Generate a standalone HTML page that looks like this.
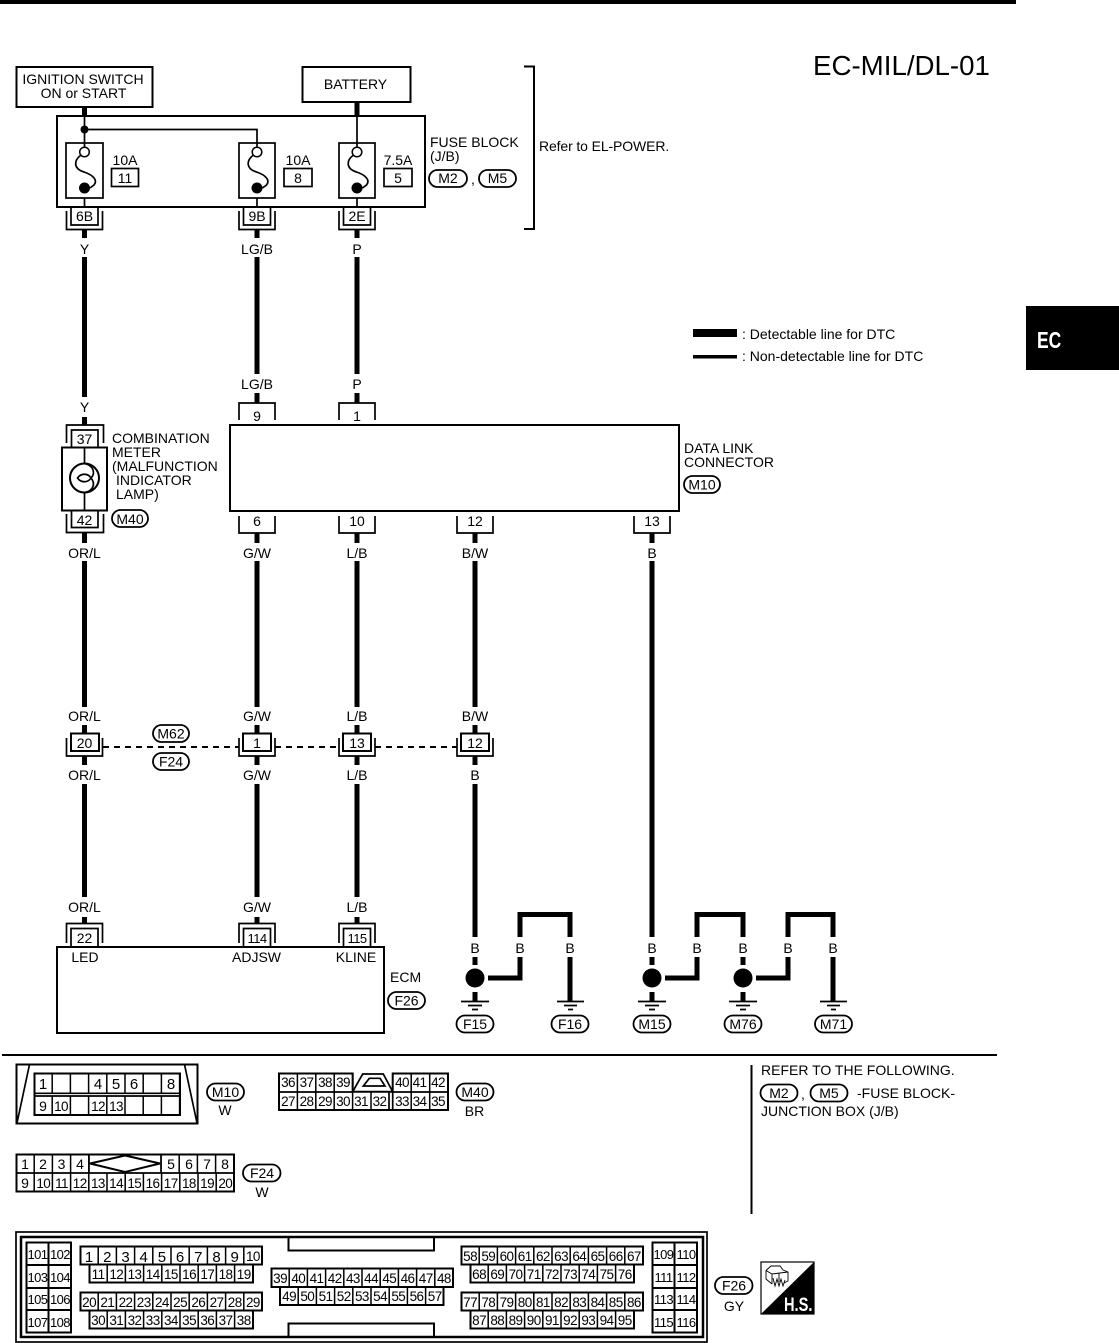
<!DOCTYPE html>
<html><head><meta charset="utf-8"><title>EC-MIL/DL-01</title>
<style>
html,body{margin:0;padding:0;background:#fff}
svg{display:block}
text{font-family:"Liberation Sans",sans-serif;font-size:14px;fill:#000}
.m{text-anchor:middle}
.c{text-anchor:middle;font-size:13.5px;letter-spacing:-.6px}
.t{text-anchor:middle;font-size:13px;letter-spacing:-.6px}
.p{fill:#fff;stroke:#000;stroke-width:1.8}
.w{stroke:#000;stroke-width:5;fill:none}
.l{stroke:#000;stroke-width:1.7;fill:none}
.b{stroke:#000;stroke-width:2;fill:none}
.g{stroke:#000;stroke-width:1.5;fill:#fff}
</style></head><body>
<svg width="1119" height="1343" viewBox="0 0 1119 1343" xmlns="http://www.w3.org/2000/svg">
<rect width="1119" height="1343" fill="#fff"/>
<rect x="0" y="0" width="1016" height="4" fill="#000"/>
<rect x="1026" y="306" width="93" height="64" fill="#000"/>
<text transform="translate(1037,348) scale(.76,1)" style="font-size:23px;font-weight:bold;fill:#fff">EC</text>
<text x="813" y="75" style="font-size:27.7px">EC-MIL/DL-01</text>

<!-- top boxes -->
<rect x="16.500" y="67" width="136" height="40" class="b"/>
<text x="83" y="84" class="m">IGNITION SWITCH</text>
<text x="83.500" y="98" class="m">ON or START</text>
<rect x="302.500" y="67" width="108" height="35" class="b"/>
<text x="355.500" y="89" class="m">BATTERY</text>
<path d="M524 66.500H534V229H524" class="b"/>
<text x="539" y="151" style="letter-spacing:-.12px">Refer to EL-POWER.</text>

<!-- fuse block -->
<rect x="57" y="116" width="368" height="91" class="b"/>
<path d="M84.500 107V116M357 102V116" class="w"/>
<path d="M84.500 116V147M84.500 129.500H257V147M357 116V147M84.500 198V207M257 198V207M357 198V207" class="l"/>
<circle cx="84.500" cy="129.500" r="4"/>
<rect x="66" y="143" width="37" height="55" class="l"/>
<rect x="239" y="143" width="36" height="55" class="l"/>
<rect x="339" y="143" width="36" height="55" class="l"/>
<g fill="none" stroke="#000" stroke-width="1.7">
<path d="M81 155C73 161 74 169 84 172C93 175 98 180 94 185L90 188"/>
<path d="M253.500 155C245.500 161 246.500 169 256.500 172C265.500 175 270.500 180 266.500 185L262.500 188"/>
<path d="M353.500 155C345.500 161 346.500 169 356.500 172C365.500 175 370.500 180 366.500 185L362.500 188"/>
</g>
<circle cx="84.500" cy="152" r="4.800" class="g"/><circle cx="257" cy="152" r="4.800" class="g"/><circle cx="357" cy="152" r="4.800" class="g"/>
<circle cx="84.500" cy="188" r="5.500"/><circle cx="257" cy="188" r="5.500"/><circle cx="357" cy="188" r="5.500"/>
<text x="125" y="165" class="m">10A</text><rect x="111.500" y="168.500" width="27" height="18" class="l"/><text x="125" y="183" class="m">11</text>
<text x="298" y="165" class="m">10A</text><rect x="284" y="168.500" width="28" height="18" class="l"/><text x="298" y="183" class="m">8</text>
<text x="398" y="165" class="m">7.5A</text><rect x="384" y="168.500" width="28" height="18" class="l"/><text x="398" y="183" class="m">5</text>
<text x="430" y="147">FUSE BLOCK</text>
<text x="430" y="161">(J/B)</text>
<rect x="429" y="170" width="38" height="17" rx="8.500" class="p"/><text x="448" y="183" class="m">M2</text>
<text x="471" y="184">,</text>
<rect x="479" y="170" width="37" height="17" rx="8.500" class="p"/><text x="497.500" y="183" class="m">M5</text>

<!-- connectors under fuse block -->
<path d="M66.500 211V229.500H102.500V211M71 207V225H98V207M239 211V229.500H275V211M243.500 207V225H270.500V207M339 211V229.500H375V211M343.500 207V225H370.500V207" class="l"/>
<text x="84.500" y="221" class="m">6B</text><text x="257" y="221" class="m">9B</text><text x="357" y="221" class="m">2E</text>
<path d="M84.500 230V238M257 230V238M357 230V238" class="w"/>
<text x="84.500" y="254" class="m">Y</text><text x="257" y="254" class="m">LG/B</text><text x="357" y="254" class="m">P</text>
<path d="M84.500 257V397M257 257V374M357 257V374M84.500 417V425M257 393V403M357 393V403" class="w"/>
<text x="84.500" y="412" class="m">Y</text><text x="257" y="389" class="m">LG/B</text><text x="357" y="389" class="m">P</text>

<!-- legend -->
<rect x="693" y="329" width="44" height="8"/>
<rect x="693" y="355" width="44" height="3.500"/>
<text x="742" y="339">: Detectable line for DTC</text>
<text x="742" y="361">: Non-detectable line for DTC</text>

<!-- combination meter -->
<path d="M66.500 443V425H103.500V443M71.500 447V430H98V447" class="l"/>
<text x="84.500" y="444" class="m">37</text>
<rect x="62" y="447.500" width="45" height="63" class="b"/>
<path d="M84.500 447V463M84.500 493V511" class="l"/>
<circle cx="84.500" cy="478" r="14.500" class="b"/>
<path d="M84.500 463.500C93 465 96 473 91 478C96 484 93 491 84.500 492.500M77.500 478C81 473 88 473 91 478C88 483 81 483 77.500 478Z" class="l"/>
<path d="M71.500 511V527.500H98V511M66.500 514V532.500H103.500V514" class="l"/>
<text x="84.500" y="525" class="m">42</text>
<text x="112" y="443">COMBINATION</text>
<text x="112" y="457">METER</text>
<text x="112" y="471">(MALFUNCTION</text>
<text x="116" y="485">INDICATOR</text>
<text x="116" y="499">LAMP)</text>
<rect x="112" y="510" width="36" height="17" rx="8.500" class="p"/><text x="130" y="524" class="m">M40</text>

<!-- data link connector -->
<rect x="230" y="425" width="449" height="86" class="b"/>
<path d="M239 420V403H275V420M339 420V403H375V420M239 516V533H275V516M339 516V533H375V516M457 516V533H493V516M634 516V533H670V516" class="l"/>
<text x="257" y="421" class="m">9</text><text x="357" y="421" class="m">1</text>
<text x="257" y="526" class="m">6</text><text x="357" y="526" class="m">10</text><text x="475" y="526" class="m">12</text><text x="652" y="526" class="m">13</text>
<text x="684" y="453">DATA LINK</text>
<text x="684" y="467">CONNECTOR</text>
<rect x="684" y="476" width="36" height="17" rx="8.500" class="p"/><text x="702" y="489.500" class="m">M10</text>

<!-- mid wires -->
<path d="M84.500 533V543M257 533V543M357 533V543M475 533V543M652 533V543" class="w"/>
<text x="84.500" y="558" class="m">OR/L</text><text x="257" y="558" class="m">G/W</text><text x="357" y="558" class="m">L/B</text><text x="475" y="558" class="m">B/W</text><text x="652" y="558" class="m">B</text>
<path d="M84.500 561V707M257 561V707M357 561V707M475 561V707M652 561V937" class="w"/>
<text x="84.500" y="721" class="m">OR/L</text><text x="257" y="721" class="m">G/W</text><text x="357" y="721" class="m">L/B</text><text x="475" y="721" class="m">B/W</text>
<path d="M84.500 725V733M257 725V733M357 725V733M475 725V733M84.500 756V765M257 756V765M357 756V765M475 756V765" class="w"/>
<path d="M66.500 738V756H102.500V738M239 738V756H275V738M339 738V756H375V738M457 738V756H493V738" class="l"/>
<rect x="71" y="733.500" width="28" height="17.500" class="b"/><rect x="243" y="733.500" width="28" height="17.500" class="b"/><rect x="343" y="733.500" width="28" height="17.500" class="b"/><rect x="461" y="733.500" width="28" height="17.500" class="b"/>
<text x="84.500" y="748" class="m">20</text><text x="257" y="748" class="m">1</text><text x="357" y="748" class="m">13</text><text x="475" y="748" class="m">12</text>
<path d="M103 747H239M275 747H339M375 747H457" stroke="#000" stroke-width="2" stroke-dasharray="6 5" fill="none"/>
<rect x="153" y="725" width="36" height="17" rx="8.500" class="p"/><text x="171" y="738.500" class="m">M62</text>
<rect x="153" y="753" width="36" height="17" rx="8.500" class="p"/><text x="171" y="766.500" class="m">F24</text>
<text x="84.500" y="780" class="m">OR/L</text><text x="257" y="780" class="m">G/W</text><text x="357" y="780" class="m">L/B</text><text x="475" y="780" class="m">B</text>
<path d="M84.500 784V897M257 784V897M357 784V897M475 784V937" class="w"/>
<text x="84.500" y="912" class="m">OR/L</text><text x="257" y="912" class="m">G/W</text><text x="357" y="912" class="m">L/B</text>
<path d="M84.500 917V924M257 917V924M357 917V924" class="w"/>

<!-- ECM -->
<path d="M66.500 943V923.500H102.500V943M71 947V928.500H98V947M239 943V923.500H275V943M243.500 947V928.500H270.500V947M339 943V923.500H375V943M343.500 947V928.500H370.500V947" class="l"/>
<text x="84.500" y="943" class="m">22</text><text x="257" y="943" class="t">114</text><text x="357" y="943" class="t">115</text>
<rect x="57" y="947" width="327" height="86" class="b"/>
<text x="85" y="962" class="m">LED</text><text x="256.500" y="962" class="m">ADJSW</text><text x="356" y="962" class="m">KLINE</text>
<text x="390" y="982">ECM</text>
<rect x="388" y="992" width="37" height="17" rx="8.500" class="p"/><text x="406.500" y="1005.500" class="m">F26</text>

<!-- grounds -->
<text x="475" y="953" class="m">B</text><text x="520" y="953" class="m">B</text><text x="570" y="953" class="m">B</text><text x="652" y="953" class="m">B</text><text x="697" y="953" class="m">B</text><text x="743" y="953" class="m">B</text><text x="788" y="953" class="m">B</text><text x="833" y="953" class="m">B</text>
<path d="M520 937V914.500H570V937M697 937V914.500H743V937M788 937V914.500H833V937M475 957V965M652 957V965M743 957V965M475 992V1001M652 992V1001M743 992V1001M570 957V1001M833 957V1001M520 957V978H488M697 957V978H665M788 957V978H756" class="w"/>
<circle cx="475" cy="978" r="9.500"/><circle cx="652" cy="978" r="9.500"/><circle cx="743" cy="978" r="9.500"/>
<path d="M461 1001.500H489M468 1005.500H482M472 1009.500H478M557 1001.500H584M564 1005.500H577M568 1009.500H573M638 1001.500H666M645 1005.500H659M649 1009.500H655M729 1001.500H757M736 1005.500H750M740 1009.500H746M820 1001.500H847M827 1005.500H840M831 1009.500H836" class="l"/>
<rect x="456.500" y="1015.500" width="37" height="17" rx="8.500" class="p"/><text x="475" y="1029" class="m">F15</text>
<rect x="551.500" y="1015.500" width="37" height="17" rx="8.500" class="p"/><text x="570" y="1029" class="m">F16</text>
<rect x="633.500" y="1015.500" width="37" height="17" rx="8.500" class="p"/><text x="652" y="1029" class="m">M15</text>
<rect x="724.500" y="1015.500" width="37" height="17" rx="8.500" class="p"/><text x="743" y="1029" class="m">M76</text>
<rect x="815" y="1015.500" width="37" height="17" rx="8.500" class="p"/><text x="833.500" y="1029" class="m">M71</text>

<!-- divider -->
<rect x="2" y="1054" width="995" height="2"/>
<rect x="750.500" y="1065" width="2" height="149"/>
<text x="761" y="1075">REFER TO THE FOLLOWING.</text>
<rect x="760.500" y="1084.500" width="37" height="17" rx="8.500" class="p"/><text x="779" y="1098" class="m">M2</text>
<text x="801" y="1099">,</text>
<rect x="810.500" y="1084.500" width="37" height="17" rx="8.500" class="p"/><text x="829" y="1098" class="m">M5</text>
<text x="857" y="1098">-FUSE BLOCK-</text>
<text x="761" y="1116">JUNCTION BOX (J/B)</text>

<!-- M10 connector -->
<rect x="16.500" y="1064.500" width="181" height="59" class="b"/>
<path d="M29.500 1064.500L17 1123M184.500 1064.500L197 1123" class="l"/>
<rect x="34.500" y="1073.500" width="145.500" height="41.500" class="b"/>
<path d="M34 1093.300H180M34 1096H180" class="l"/>
<line x1="34" x2="180" y1="1083.500" y2="1083.500" stroke="#000" stroke-width="20" stroke-dasharray="1.500 16.700" stroke-dashoffset=".75"/>
<line x1="34" x2="180" y1="1105.500" y2="1105.500" stroke="#000" stroke-width="19" stroke-dasharray="1.500 16.700" stroke-dashoffset=".75"/>
<text x="43" y="1089" class="m" style="font-size:15px">1</text><text x="98" y="1089" class="m" style="font-size:15px">4</text><text x="116" y="1089" class="m" style="font-size:15px">5</text><text x="134" y="1089" class="m" style="font-size:15px">6</text><text x="171" y="1089" class="m" style="font-size:15px">8</text>
<text x="43" y="1111" class="m">9</text><text x="61" y="1111" class="c">10</text><text x="98" y="1111" class="c">12</text><text x="116" y="1111" class="c">13</text>
<rect x="207" y="1083.500" width="37" height="17" rx="8.500" class="p"/><text x="225.500" y="1097" class="m">M10</text>
<text x="225" y="1115" class="m">W</text>

<!-- M40 connector -->
<path d="M279 1073.500H352.700V1091.700H392.700V1073.500H448V1110H279Z" class="b"/>
<path d="M279 1092H352.700M392.700 1092H448" class="l"/>
<line x1="279" x2="352.700" y1="1082.500" y2="1082.500" stroke="#000" stroke-width="18" stroke-dasharray="1.500 16.900" stroke-dashoffset=".75"/>
<line x1="279" x2="389" y1="1101" y2="1101" stroke="#000" stroke-width="18" stroke-dasharray="1.500 16.900" stroke-dashoffset=".75"/>
<line x1="392.700" x2="448" y1="1082.500" y2="1082.500" stroke="#000" stroke-width="18" stroke-dasharray="1.500 17" stroke-dashoffset=".75"/>
<line x1="392.700" x2="448" y1="1101" y2="1101" stroke="#000" stroke-width="18" stroke-dasharray="1.500 17" stroke-dashoffset=".75"/>
<path d="M389 1092V1110M392.700 1092V1110" class="l"/>
<path d="M352.700 1091.700L362.700 1074H383.300L392.700 1091.700M363.300 1086L369.300 1078.300H380L385 1086Z" class="l"/>
<text x="288" y="1087" class="c">36</text><text x="306.500" y="1087" class="c">37</text><text x="325" y="1087" class="c">38</text><text x="343" y="1087" class="c">39</text><text x="402" y="1087" class="c">40</text><text x="419.500" y="1087" class="c">41</text><text x="438" y="1087" class="c">42</text>
<text x="288" y="1106" class="c">27</text><text x="306.500" y="1106" class="c">28</text><text x="325" y="1106" class="c">29</text><text x="343" y="1106" class="c">30</text><text x="361" y="1106" class="c">31</text><text x="379.500" y="1106" class="c">32</text><text x="402" y="1106" class="c">33</text><text x="419.500" y="1106" class="c">34</text><text x="438" y="1106" class="c">35</text>
<rect x="456.500" y="1083.500" width="37" height="17" rx="8.500" class="p"/><text x="475" y="1097" class="m">M40</text>
<text x="474.500" y="1116" class="m">BR</text>

<!-- F24 connector -->
<rect x="16.500" y="1154.500" width="217.500" height="37" class="b"/>
<path d="M16 1173H234" class="l"/>
<line x1="16" x2="234" y1="1182.500" y2="1182.500" stroke="#000" stroke-width="18" stroke-dasharray="1.500 16.700" stroke-dashoffset=".75"/>
<line x1="16" x2="89" y1="1164" y2="1164" stroke="#000" stroke-width="18" stroke-dasharray="1.500 16.700" stroke-dashoffset=".75"/>
<line x1="161" x2="234" y1="1164" y2="1164" stroke="#000" stroke-width="18" stroke-dasharray="1.500 16.700" stroke-dashoffset=".75"/>
<path d="M89 1155V1173M161 1155V1173" class="l"/>
<path d="M90 1163.500L125 1155.500L160 1163.500L125 1172Z" fill="#fff" stroke="#000" stroke-width="2"/>
<text x="25" y="1169" class="m">1</text><text x="43" y="1169" class="m">2</text><text x="61.500" y="1169" class="m">3</text><text x="80" y="1169" class="m">4</text><text x="171" y="1169" class="m">5</text><text x="189" y="1169" class="m">6</text><text x="207" y="1169" class="m">7</text><text x="225" y="1169" class="m">8</text>
<text x="25" y="1188" class="m">9</text><text x="43.300" y="1188" class="c">10</text><text x="61.500" y="1188" class="c">11</text><text x="79.700" y="1188" class="c">12</text><text x="97.900" y="1188" class="c">13</text><text x="116.100" y="1188" class="c">14</text><text x="134.300" y="1188" class="c">15</text><text x="152.500" y="1188" class="c">16</text><text x="170.700" y="1188" class="c">17</text><text x="188.900" y="1188" class="c">18</text><text x="207.100" y="1188" class="c">19</text><text x="225.300" y="1188" class="c">20</text>
<rect x="243" y="1164.500" width="37.500" height="17" rx="8.500" class="p"/><text x="262" y="1178" class="m">F24</text>
<text x="262" y="1197" class="m">W</text>

<!-- F26 connector -->
<rect x="16" y="1232" width="691" height="110" class="l"/>
<rect x="21" y="1237" width="682" height="100" fill="none" stroke="#000" stroke-width="2.500"/>
<path d="M288.500 1237V1250.500H434V1237M288.500 1337V1323.500H434V1337" class="b"/>

<!-- 101-108 -->
<g class="b"><rect x="26.500" y="1242.500" width="44.500" height="90"/><rect x="652.500" y="1242.500" width="44.500" height="90"/>
<path d="M48.500 1242V1332M26 1265H71M26 1288H71M26 1310H71M674.500 1242V1332M652 1265H697M652 1288H697M652 1310H697"/></g>
<text x="37.500" y="1259" class="t">101</text><text x="60" y="1259" class="t">102</text><text x="37.500" y="1282" class="t">103</text><text x="60" y="1282" class="t">104</text><text x="37.500" y="1304" class="t">105</text><text x="60" y="1304" class="t">106</text><text x="37.500" y="1327" class="t">107</text><text x="60" y="1327" class="t">108</text>
<text x="663.500" y="1259" class="t">109</text><text x="686" y="1259" class="t">110</text><text x="663.500" y="1282" class="t">111</text><text x="686" y="1282" class="t">112</text><text x="663.500" y="1304" class="t">113</text><text x="686" y="1304" class="t">114</text><text x="663.500" y="1327" class="t">115</text><text x="686" y="1327" class="t">116</text>

<!-- cell blocks -->
<g class="b">
<rect x="80.500" y="1246.500" width="181.500" height="18"/><rect x="89.500" y="1264.500" width="163.500" height="18"/>
<rect x="80.500" y="1292.500" width="181.500" height="18"/><rect x="89.500" y="1310.500" width="163.500" height="18"/>
<rect x="271.500" y="1268.500" width="181.500" height="18.500"/><rect x="280" y="1287" width="163.500" height="18"/>
<rect x="461.500" y="1246.500" width="181.500" height="18"/><rect x="470.500" y="1264.500" width="163.500" height="18"/>
<rect x="461.500" y="1292.500" width="181.500" height="18"/><rect x="470.500" y="1310.500" width="163.500" height="18"/>
</g>
<g stroke="#000" stroke-width="18" stroke-dasharray="1.500 16.700" stroke-dashoffset=".75">
<line x1="80" x2="262" y1="1255.500" y2="1255.500"/><line x1="89" x2="253" y1="1273.500" y2="1273.500"/>
<line x1="80" x2="262" y1="1301.500" y2="1301.500"/><line x1="89" x2="253" y1="1319.500" y2="1319.500"/>
<line x1="271" x2="453" y1="1277.500" y2="1277.500"/><line x1="280" x2="444" y1="1296" y2="1296"/>
<line x1="461" x2="643" y1="1255.500" y2="1255.500"/><line x1="470" x2="634" y1="1273.500" y2="1273.500"/>
<line x1="461" x2="643" y1="1301.500" y2="1301.500"/><line x1="470" x2="634" y1="1319.500" y2="1319.500"/>
</g>
<text x="89.100" y="1262" class="m" style="font-size:15px">1</text><text x="107.300" y="1262" class="m" style="font-size:15px">2</text><text x="125.500" y="1262" class="m" style="font-size:15px">3</text><text x="143.700" y="1262" class="m" style="font-size:15px">4</text><text x="161.900" y="1262" class="m" style="font-size:15px">5</text><text x="180.100" y="1262" class="m" style="font-size:15px">6</text><text x="198.300" y="1262" class="m" style="font-size:15px">7</text><text x="216.500" y="1262" class="m" style="font-size:15px">8</text><text x="234.700" y="1262" class="m" style="font-size:15px">9</text><text x="252.900" y="1261" class="c">10</text>
<text x="98.100" y="1279" class="c">11</text><text x="116.300" y="1279" class="c">12</text><text x="134.500" y="1279" class="c">13</text><text x="152.700" y="1279" class="c">14</text><text x="170.900" y="1279" class="c">15</text><text x="189.100" y="1279" class="c">16</text><text x="207.300" y="1279" class="c">17</text><text x="225.500" y="1279" class="c">18</text><text x="243.700" y="1279" class="c">19</text>
<text x="89.100" y="1307" class="c">20</text><text x="107.300" y="1307" class="c">21</text><text x="125.500" y="1307" class="c">22</text><text x="143.700" y="1307" class="c">23</text><text x="161.900" y="1307" class="c">24</text><text x="180.100" y="1307" class="c">25</text><text x="198.300" y="1307" class="c">26</text><text x="216.500" y="1307" class="c">27</text><text x="234.700" y="1307" class="c">28</text><text x="252.900" y="1307" class="c">29</text>
<text x="98.100" y="1325" class="c">30</text><text x="116.300" y="1325" class="c">31</text><text x="134.500" y="1325" class="c">32</text><text x="152.700" y="1325" class="c">33</text><text x="170.900" y="1325" class="c">34</text><text x="189.100" y="1325" class="c">35</text><text x="207.300" y="1325" class="c">36</text><text x="225.500" y="1325" class="c">37</text><text x="243.700" y="1325" class="c">38</text>
<text x="280.100" y="1283" class="c">39</text><text x="298.300" y="1283" class="c">40</text><text x="316.500" y="1283" class="c">41</text><text x="334.700" y="1283" class="c">42</text><text x="352.900" y="1283" class="c">43</text><text x="371.100" y="1283" class="c">44</text><text x="389.300" y="1283" class="c">45</text><text x="407.500" y="1283" class="c">46</text><text x="425.700" y="1283" class="c">47</text><text x="443.900" y="1283" class="c">48</text>
<text x="289.100" y="1301" class="c">49</text><text x="307.300" y="1301" class="c">50</text><text x="325.500" y="1301" class="c">51</text><text x="343.700" y="1301" class="c">52</text><text x="361.900" y="1301" class="c">53</text><text x="380.100" y="1301" class="c">54</text><text x="398.300" y="1301" class="c">55</text><text x="416.500" y="1301" class="c">56</text><text x="434.700" y="1301" class="c">57</text>
<text x="470.100" y="1261" class="c">58</text><text x="488.300" y="1261" class="c">59</text><text x="506.500" y="1261" class="c">60</text><text x="524.700" y="1261" class="c">61</text><text x="542.900" y="1261" class="c">62</text><text x="561.100" y="1261" class="c">63</text><text x="579.300" y="1261" class="c">64</text><text x="597.500" y="1261" class="c">65</text><text x="615.700" y="1261" class="c">66</text><text x="633.900" y="1261" class="c">67</text>
<text x="479.100" y="1279" class="c">68</text><text x="497.300" y="1279" class="c">69</text><text x="515.500" y="1279" class="c">70</text><text x="533.700" y="1279" class="c">71</text><text x="551.900" y="1279" class="c">72</text><text x="570.100" y="1279" class="c">73</text><text x="588.300" y="1279" class="c">74</text><text x="606.500" y="1279" class="c">75</text><text x="624.700" y="1279" class="c">76</text>
<text x="470.100" y="1307" class="c">77</text><text x="488.300" y="1307" class="c">78</text><text x="506.500" y="1307" class="c">79</text><text x="524.700" y="1307" class="c">80</text><text x="542.900" y="1307" class="c">81</text><text x="561.100" y="1307" class="c">82</text><text x="579.300" y="1307" class="c">83</text><text x="597.500" y="1307" class="c">84</text><text x="615.700" y="1307" class="c">85</text><text x="633.900" y="1307" class="c">86</text>
<text x="479.100" y="1325" class="c">87</text><text x="497.300" y="1325" class="c">88</text><text x="515.500" y="1325" class="c">89</text><text x="533.700" y="1325" class="c">90</text><text x="551.900" y="1325" class="c">91</text><text x="570.100" y="1325" class="c">92</text><text x="588.300" y="1325" class="c">93</text><text x="606.500" y="1325" class="c">94</text><text x="624.700" y="1325" class="c">95</text>

<rect x="715" y="1277" width="37.500" height="17" rx="8.500" class="p"/><text x="734" y="1290.500" class="m">F26</text>
<text x="734" y="1311" class="m">GY</text>

<!-- H.S. icon -->
<rect x="761" y="1262" width="53" height="52" fill="#fff" stroke="#000" stroke-width="1.200"/>
<path d="M814 1262V1314H761Z"/>
<text transform="translate(784,1311) scale(.75,1)" style="font-size:19.500px;font-weight:bold;fill:#fff">H.S.</text>
<path d="M766 1270.500L771 1266H780L783 1270L788 1272V1281L784 1283M766 1270.500V1279L772 1284M766 1270.500L772 1274L788 1272M772 1274V1284M779 1273V1282M773 1278L775 1286L777 1279L779 1286L781 1279L783 1286L785 1280" fill="none" stroke="#000" stroke-width=".9"/>
</svg>
</body></html>
